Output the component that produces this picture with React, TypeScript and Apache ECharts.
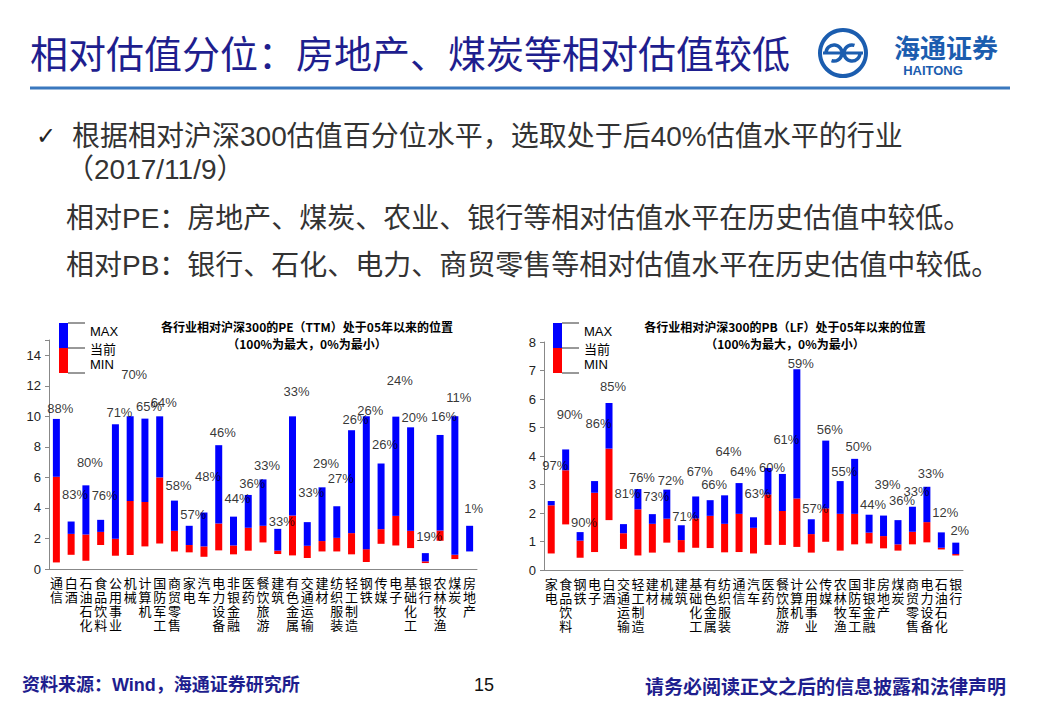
import React, { useEffect, useRef } from "react";
import * as echarts from "echarts";

// ---- PE chart data (relative PE vs CSI300) ----
const peCategories = ["通信","白酒","石油石化","食品饮料","公用事业","机械","计算机","国防军工","商贸零售","家电","汽车","电力设备","非银金融","医药","餐饮旅游","建筑","有色金属","交通运输","建材","纺织服装","轻工制造","钢铁","传媒","电子","基础化工","银行","农林牧渔","煤炭","房地产"];
const peMax = [9.83,3.11,5.48,3.22,9.48,10.0,9.85,10.0,4.48,2.83,3.70,8.11,3.43,4.85,5.87,2.63,10.0,3.07,5.35,4.11,9.09,10.0,6.91,9.98,9.28,1.04,8.78,10.0,2.83];
const peCurrent = [6.04,2.30,2.26,2.43,1.98,4.46,4.39,6.0,2.5,1.57,1.48,2.98,1.54,2.70,2.83,1.2,3.5,1.52,1.83,2.04,2.35,1.30,2.61,3.48,2.5,0.5,2.52,0.93,1.15];
const peMin = [0.43,0.93,0.54,1.57,0.87,0.91,1.48,1.67,1.15,1.09,0.80,1.22,0.96,1.20,1.74,0.98,0.89,0.72,1.15,1.15,0.96,0.46,1.65,1.54,1.37,0.39,1.85,0.65,1.15];
const pePercentile = [88,83,80,76,71,70,65,64,58,57,48,46,44,36,33,33,33,33,29,27,26,26,26,24,20,19,16,11,1];
const peLabelAt = [10.5,4.9,6.98,4.83,10.28,12.74,10.67,10.9,5.5,3.54,6.09,8.93,4.63,5.61,6.8,3.1,11.63,5.02,6.91,5.93,9.78,10.39,8.17,12.35,9.91,2.13,10.0,11.22,3.98];

// ---- PB chart data (relative PB vs CSI300) ----
const pbCategories = ["家电","食品饮料","钢铁","电子","白酒","交通运输","轻工制造","建材","机械","建筑","基础化工","有色金属","纺织服装","通信","汽车","医药","餐饮旅游","计算机","公用事业","传媒","农林牧渔","国防军工","非银金融","房地产","煤炭","商贸零售","电力设备","石油石化","银行"];
const pbMax = [2.42,4.23,1.33,3.12,5.86,1.61,2.84,1.96,2.82,1.57,2.58,2.45,2.62,3.05,1.85,3.58,3.37,7.04,1.78,4.54,3.12,3.9,1.94,1.91,1.75,2.22,2.92,1.32,0.96];
const pbCurrent = [2.27,3.5,1.03,2.71,4.26,1.29,2.13,1.62,1.8,1.05,1.81,1.9,1.62,1.97,1.48,2.65,2.07,2.51,1.26,2.16,1.97,1.97,1.31,1.19,0.9,1.34,1.68,0.78,0.56];
const pbMin = [0.58,1.6,0.43,0.63,1.75,0.74,0.51,0.61,0.96,0.62,0.78,0.77,0.62,0.63,0.58,0.88,0.88,0.81,0.61,0.99,0.68,0.9,0.93,0.76,0.68,0.9,0.97,0.72,0.51];
const pbPercentile = [97,90,90,86,85,81,76,73,72,71,67,66,64,64,63,60,61,59,57,56,55,50,44,39,36,33,33,12,2];
const pbLabelAt = [3.68,5.47,1.67,5.14,6.45,2.69,3.24,2.57,3.13,1.87,3.47,3.01,4.15,3.47,2.69,3.58,4.58,7.26,2.16,4.94,3.44,4.34,2.3,3.01,2.45,2.77,3.39,2.01,1.4];

const peYTicks = [0, 2, 4, 6, 8, 10, 12, 14];
const pbYTicks = [0, 1, 2, 3, 4, 5, 6, 7, 8];

const CJK = '"Noto Sans CJK SC", sans-serif';
const LATIN = '"Liberation Sans", Arial, "Noto Sans CJK SC", sans-serif';
const NAVY = "#1E1E8E";
const BLUE = "#0000FF";
const RED = "#FF0000";

const diff = (a: number[], b: number[]) => a.map((v, i) => Math.max(0, +(v - b[i]).toFixed(3)));

function barSeries(idx: number, min: number[], cur: number[], max: number[], pct: number[], labelAt: number[]) {
  const stack = "s" + idx;
  return [
    { type: "bar", xAxisIndex: idx, yAxisIndex: idx, stack, barWidth: 7, itemStyle: { color: "transparent" }, data: min, silent: true },
    { type: "bar", xAxisIndex: idx, yAxisIndex: idx, stack, barWidth: 7, itemStyle: { color: RED }, data: diff(cur, min) },
    { type: "bar", xAxisIndex: idx, yAxisIndex: idx, stack, barWidth: 7, itemStyle: { color: BLUE }, data: diff(max, cur) },
    {
      type: "scatter", xAxisIndex: idx, yAxisIndex: idx, symbolSize: 0, data: labelAt, silent: true, z: 10,
      label: {
        show: true, position: "inside", offset: [4, 0], fontSize: 13, color: "#000", fontFamily: LATIN,
        formatter: (p: any) => pct[p.dataIndex] + "%",
      },
    },
  ];
}

function xAxisCfg(idx: number, cats: string[]) {
  return {
    type: "category", gridIndex: idx, data: cats,
    axisLine: { lineStyle: { color: "#888" } },
    axisTick: { length: 4, lineStyle: { color: "#888" } },
    axisLabel: {
      interval: 0, margin: 6, fontSize: 13, lineHeight: 14, color: "#000", fontFamily: CJK,
      formatter: (s: string) => s.split("").join("\n"),
    },
  };
}

function yAxisCfg(idx: number, ticks: number[], max: number) {
  return {
    type: "value", gridIndex: idx, min: ticks[0], max, interval: ticks[1] - ticks[0],
    splitLine: { show: false },
    axisLine: { show: true, lineStyle: { color: "#888" } },
    axisTick: { show: true, length: 4, lineStyle: { color: "#888" } },
    axisLabel: {
      fontSize: 13, color: "#222", fontFamily: LATIN, margin: 8,
      formatter: (v: number) => (ticks.indexOf(v) >= 0 ? String(v) : ""),
    },
  };
}

function legend(x: number, y: number) {
  return [
    { type: "rect", shape: { x, y, width: 9, height: 25 }, style: { fill: BLUE } },
    { type: "rect", shape: { x, y: y + 25, width: 9, height: 25 }, style: { fill: RED } },
    { type: "line", shape: { x1: x + 9, y1: y, x2: x + 26, y2: y }, style: { stroke: "#333", lineWidth: 1 } },
    { type: "line", shape: { x1: x + 9, y1: y + 25, x2: x + 26, y2: y + 25 }, style: { stroke: "#333", lineWidth: 1 } },
    { type: "line", shape: { x1: x + 9, y1: y + 50, x2: x + 26, y2: y + 50 }, style: { stroke: "#333", lineWidth: 1 } },
    { type: "text", x: x + 31, y: y + 8, style: { text: "MAX", fontSize: 13, fill: "#000", fontFamily: LATIN, verticalAlign: "middle" } },
    { type: "text", x: x + 31, y: y + 25, style: { text: "当前", fontSize: 13, fill: "#000", fontFamily: CJK, verticalAlign: "middle" } },
    { type: "text", x: x + 31, y: y + 41, style: { text: "MIN", fontSize: 13, fill: "#000", fontFamily: LATIN, verticalAlign: "middle" } },
  ];
}

function chartTitle(cx: number, line1: string) {
  return [
    { type: "text", x: cx, y: 326, style: { text: line1, fontSize: 12, fontWeight: "bold", fill: "#000", fontFamily: CJK, align: "center", verticalAlign: "middle" } },
    { type: "text", x: cx, y: 343, style: { text: "（100%为最大，0%为最小）", fontSize: 12, fontWeight: "bold", fill: "#000", fontFamily: CJK, align: "center", verticalAlign: "middle" } },
  ];
}

export default function App() {
  const ref = useRef<HTMLDivElement>(null);
  useEffect(() => {
    document.body.style.margin = "0";
    const chart = echarts.init(ref.current!, null, { renderer: "svg" });
    const logoColor = "#1B5DAF";
    chart.setOption({
      animation: false,
      backgroundColor: "#fff",
      grid: [
        { left: 49, right: 563, top: 340, bottom: 149 },
        { left: 544, right: 77, top: 342, bottom: 148 },
      ],
      xAxis: [xAxisCfg(0, peCategories), xAxisCfg(1, pbCategories)],
      yAxis: [yAxisCfg(0, peYTicks, 15), yAxisCfg(1, pbYTicks, 8)],
      series: [
        ...barSeries(0, peMin, peCurrent, peMax, pePercentile, peLabelAt),
        ...barSeries(1, pbMin, pbCurrent, pbMax, pbPercentile, pbLabelAt),
      ],
      graphic: [
        { type: "text", x: 30, y: 51, style: { text: "相对估值分位：房地产、煤炭等相对估值较低", fontSize: 38, fill: NAVY, fontFamily: CJK, verticalAlign: "middle" } },
        // logo
        { type: "ring", shape: { cx: 843, cy: 53, r: 25, r0: 21 }, style: { fill: logoColor } },
        { type: "arc", shape: { cx: 834, cy: 53, r: 8, startAngle: Math.PI, endAngle: Math.PI * 2.6 }, style: { stroke: logoColor, lineWidth: 3.5, fill: "none" } },
        { type: "arc", shape: { cx: 852, cy: 53, r: 8, startAngle: 0, endAngle: Math.PI * 1.6 }, style: { stroke: logoColor, lineWidth: 3.5, fill: "none" } },
        { type: "line", shape: { x1: 823, y1: 53, x2: 863, y2: 53 }, style: { stroke: logoColor, lineWidth: 3 } },
        { type: "text", x: 946, y: 46, style: { text: "海通证券", fontSize: 26, fontWeight: "bold", fill: logoColor, fontFamily: CJK, align: "center", verticalAlign: "middle" } },
        { type: "text", x: 933, y: 70, style: { text: "HAITONG", fontSize: 13, fontWeight: "bold", fill: logoColor, fontFamily: LATIN, align: "center", verticalAlign: "middle" } },
        { type: "line", shape: { x1: 30, y1: 88, x2: 1010, y2: 88 }, style: { stroke: "#3A78BE", lineWidth: 3 } },
        // bullet text
        { type: "text", x: 36, y: 136, style: { text: "✓", fontSize: 24, fill: "#222", fontFamily: '"DejaVu Sans", sans-serif', verticalAlign: "middle" } },
        { type: "text", x: 72, y: 136, style: { text: "根据相对沪深300估值百分位水平，选取处于后40%估值水平的行业", fontSize: 28, fill: "#333", fontFamily: LATIN, verticalAlign: "middle" } },
        { type: "text", x: 66, y: 169, style: { text: "（2017/11/9）", fontSize: 28, fill: "#333", fontFamily: LATIN, verticalAlign: "middle" } },
        { type: "text", x: 66, y: 218, style: { text: "相对PE：房地产、煤炭、农业、银行等相对估值水平在历史估值中较低。", fontSize: 28, fill: "#333", fontFamily: LATIN, verticalAlign: "middle" } },
        { type: "text", x: 66, y: 265, style: { text: "相对PB：银行、石化、电力、商贸零售等相对估值水平在历史估值中较低。", fontSize: 28, fill: "#333", fontFamily: LATIN, verticalAlign: "middle" } },
        // chart titles & legends
        ...chartTitle(307, "各行业相对沪深300的PE（TTM）处于05年以来的位置"),
        ...chartTitle(785, "各行业相对沪深300的PB（LF）处于05年以来的位置"),
        ...legend(59, 323),
        ...legend(553, 323),
        // footer
        { type: "text", x: 22, y: 685, style: { text: "资料来源：Wind，海通证券研究所", fontSize: 18, fontWeight: "bold", fill: NAVY, fontFamily: LATIN, verticalAlign: "middle" } },
        { type: "text", x: 484, y: 685, style: { text: "15", fontSize: 18, fill: "#111", fontFamily: LATIN, align: "center", verticalAlign: "middle" } },
        { type: "text", x: 645, y: 685, style: { text: "请务必阅读正文之后的信息披露和法律声明", fontSize: 19, fontWeight: "bold", fill: NAVY, fontFamily: CJK, verticalAlign: "middle" } },
      ],
    });
    return () => chart.dispose();
  }, []);
  return <div ref={ref} style={{ width: 1040, height: 718 }} />;
}
